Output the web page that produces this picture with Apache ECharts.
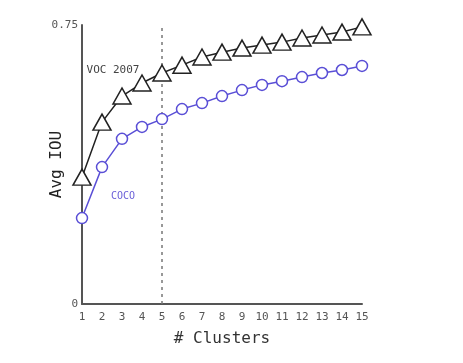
<!DOCTYPE html>
<html>
<head>
<meta charset="utf-8">
<script src="https://cdn.jsdelivr.net/npm/echarts@6/dist/echarts.min.js"></script>
<style>html,body{margin:0;padding:0;background:#fff;}#c{width:463px;height:363px;}</style>
</head>
<body>
<div id="c"></div>
<script>
var clusters = [1,2,3,4,5,6,7,8,9,10,11,12,13,14,15];
var vocValues = [0.341,0.489,0.559,0.594,0.621,0.642,0.664,0.677,0.688,0.696,0.704,0.715,0.723,0.731,0.745];
var cocoValues = [0.231,0.368,0.444,0.476,0.497,0.524,0.540,0.559,0.575,0.589,0.599,0.610,0.621,0.629,0.640];
var yTicks = [0, 0.75];
var chosenK = 5;

var font = 'DejaVu Sans Mono';
var chart = echarts.init(document.getElementById('c'));
function pairs(v){ return clusters.map(function(c,i){ return [c, v[i]]; }); }
chart.setOption({
  animation: false,
  backgroundColor: '#fff',
  grid: {left: 82, right: 101, top: 25, bottom: 59},
  xAxis: {
    type: 'value', min: 1, max: 15, interval: 1,
    name: '# Clusters', nameLocation: 'middle', nameGap: 27,
    nameTextStyle: {fontFamily: font, fontSize: 16, color: '#333'},
    axisLine: {lineStyle: {color: '#555', width: 2}},
    axisTick: {show: false},
    axisLabel: {fontFamily: font, fontSize: 11, color: '#555', margin: 8},
    splitLine: {show: false}
  },
  yAxis: {
    type: 'value', min: yTicks[0], max: yTicks[1], interval: yTicks[1],
    name: 'Avg IOU', nameLocation: 'middle', nameGap: 17, nameMoveOverlap: false,
    nameTextStyle: {fontFamily: font, fontSize: 16, color: '#222'},
    axisLine: {show: true, lineStyle: {color: '#555', width: 2}},
    axisTick: {show: false},
    axisLabel: {fontFamily: font, fontSize: 11, color: '#555', margin: 4,
      formatter: function(v){ return v === 0 ? '0' : v.toFixed(2); }},
    splitLine: {show: false}
  },
  series: [
    {
      type: 'line', name: 'marker', data: [], z: 1,
      markLine: {
        silent: true, symbol: 'none', z: 1,
        lineStyle: {color: '#777', type: [3, 4], width: 1.5},
        label: {show: false},
        data: [{xAxis: chosenK}]
      }
    },
    {
      type: 'line', name: 'VOC 2007', data: pairs(vocValues),
      symbol: 'triangle', symbolSize: [18, 16],
      lineStyle: {color: '#222', width: 1.5},
      itemStyle: {color: '#fff', borderColor: '#222', borderWidth: 1.5},
      z: 3,
      markPoint: {
        symbol: 'circle', symbolSize: 0,
        label: {show: true, formatter: 'VOC 2007', fontFamily: font, fontSize: 11, color: '#444'},
        data: [{coord: [2.55, 0.629]}]
      }
    },
    {
      type: 'line', name: 'COCO', data: pairs(cocoValues),
      symbol: 'circle', symbolSize: 11,
      lineStyle: {color: '#5a4fd6', width: 1.5},
      itemStyle: {color: '#fff', borderColor: '#5a4fd6', borderWidth: 1.5},
      z: 4,
      markPoint: {
        symbol: 'circle', symbolSize: 0,
        label: {show: true, formatter: 'COCO', fontFamily: font, fontSize: 10, color: '#6a5fd8'},
        data: [{coord: [3.05, 0.29]}]
      }
    }
  ]
});
</script>
</body>
</html>
